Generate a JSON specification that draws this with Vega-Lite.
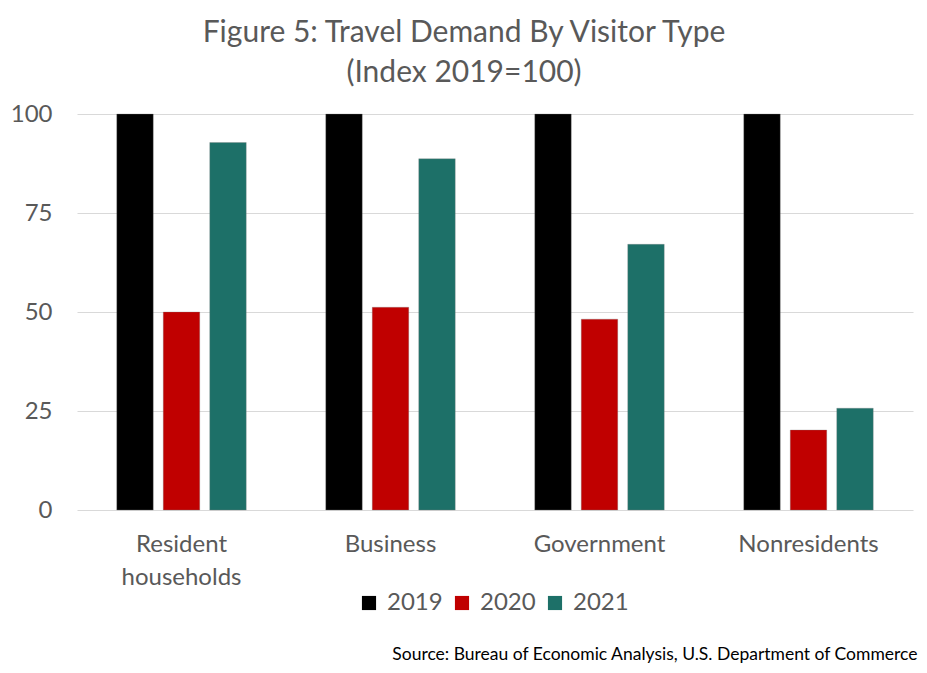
{
  "$schema": "https://vega.github.io/schema/vega-lite/v6.json",
  "autosize": "none",
  "width": 836,
  "height": 396,
  "padding": {"left": 77, "top": 114, "right": 14, "bottom": 163},
  "background": "white",
  "title": {
    "text": ["Figure 5: Travel Demand By Visitor Type", "(Index 2019=100)"],
    "font": "Lato",
    "fontSize": 30,
    "fontWeight": "normal",
    "color": "#595959",
    "lineHeight": 40,
    "anchor": "middle",
    "dx": -31,
    "offset": 14
  },
  "data": {
    "values": [
      {"type": "Resident households", "year": "2019", "index": 100},
      {"type": "Resident households", "year": "2020", "index": 50.0},
      {"type": "Resident households", "year": "2021", "index": 92.8},
      {"type": "Business", "year": "2019", "index": 100},
      {"type": "Business", "year": "2020", "index": 51.2},
      {"type": "Business", "year": "2021", "index": 88.7},
      {"type": "Government", "year": "2019", "index": 100},
      {"type": "Government", "year": "2020", "index": 48.2},
      {"type": "Government", "year": "2021", "index": 67.1},
      {"type": "Nonresidents", "year": "2019", "index": 100},
      {"type": "Nonresidents", "year": "2020", "index": 20.2},
      {"type": "Nonresidents", "year": "2021", "index": 25.7}
    ]
  },
  "mark": {"type": "bar", "stroke": "#7f7f7f", "strokeWidth": 0.5, "strokeOpacity": 0.6},
  "encoding": {
    "x": {
      "field": "type",
      "type": "nominal",
      "sort": null,
      "scale": {"paddingInner": 0, "paddingOuter": 0},
      "axis": {
        "title": "Source: Bureau of Economic Analysis, U.S. Department of Commerce",
        "titleFont": "Lato",
        "titleFontSize": 17.5,
        "titleFontWeight": "normal",
        "titleColor": "#000000",
        "titleAnchor": "end",
        "titleAlign": "right",
        "titleBaseline": "alphabetic",
        "titleX": 840,
        "titleY": 149,
        "labelAngle": 0,
        "labelFont": "Lato",
        "labelFontSize": 24,
        "labelColor": "#595959",
        "labelPadding": 22,
        "labelLineHeight": 33,
        "labelBaseline": "top",
        "labelExpr": "datum.value == 'Resident households' ? ['Resident', 'households'] : datum.value",
        "domain": false,
        "ticks": false,
        "grid": false
      }
    },
    "xOffset": {
      "field": "year",
      "type": "nominal",
      "scale": {"paddingInner": 0.215, "paddingOuter": 0.855}
    },
    "y": {
      "field": "index",
      "type": "quantitative",
      "scale": {"domain": [0, 100]},
      "axis": {
        "title": null,
        "values": [0, 25, 50, 75, 100],
        "labelFont": "Lato",
        "labelFontSize": 24,
        "labelColor": "#595959",
        "labelPadding": 25,
        "domain": false,
        "ticks": false,
        "gridColor": "#d9d9d9",
        "gridWidth": 1
      }
    },
    "color": {
      "field": "year",
      "type": "nominal",
      "scale": {"domain": ["2019", "2020", "2021"], "range": ["#000000", "#C00000", "#1D7068"]},
      "legend": {
        "title": null,
        "orient": "none",
        "direction": "horizontal",
        "legendX": 280,
        "legendY": 477,
        "symbolType": "square",
        "symbolSize": 200,
        "symbolStrokeWidth": 0,
        "labelFont": "Lato",
        "labelFontSize": 24,
        "labelColor": "#595959",
        "columnPadding": 7,
        "labelOffset": 6
      }
    }
  },
  "config": {"view": {"stroke": null}}
}
